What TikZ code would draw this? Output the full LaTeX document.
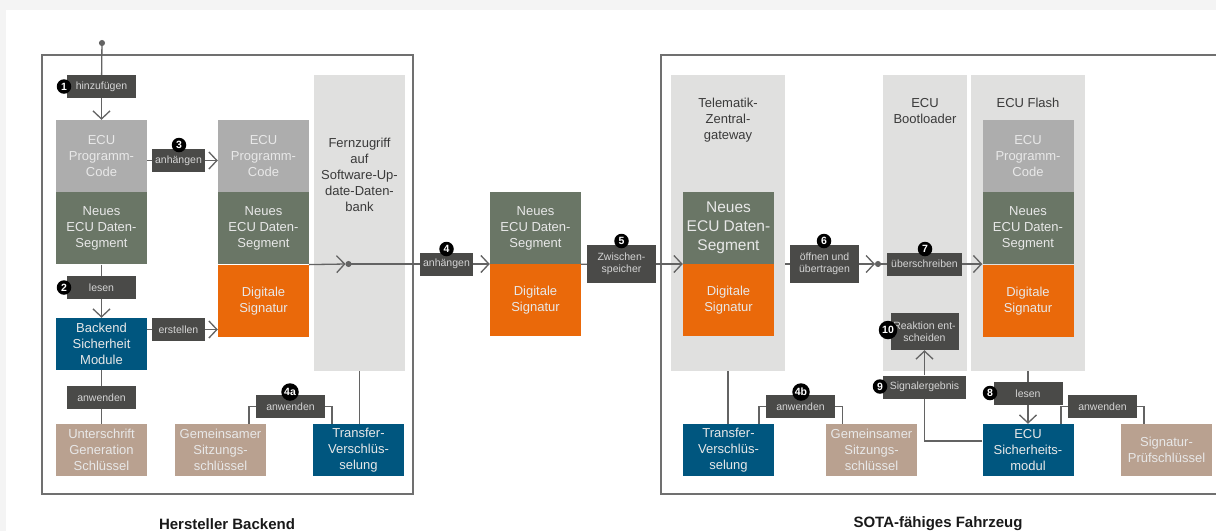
\documentclass[tikz,border=0pt]{standalone}
\usepackage{fontspec}
\setmainfont{Liberation Sans}
\usetikzlibrary{positioning,arrows.meta}
\definecolor{codegray}{HTML}{ADADAD}
\definecolor{seggreen}{HTML}{6A7666}
\definecolor{sigorange}{HTML}{EA690A}
\definecolor{hsmblue}{HTML}{00567F}
\definecolor{keytan}{HTML}{B9A190}
\definecolor{lblgray}{HTML}{4A4A48}
\definecolor{lanegray}{HTML}{E0E0DF}
\definecolor{wiregray}{HTML}{636363}
\definecolor{framegray}{HTML}{707070}
\definecolor{pagegray}{HTML}{F4F4F4}
\definecolor{boxtext}{HTML}{E8E8E8}
\definecolor{hdrtext}{HTML}{3A3A3A}
\tikzstyle{blk}   = [rectangle, inner sep=0pt, minimum width=91pt, minimum height=72pt,
                     align=center, text=boxtext, font=\fontsize{13}{16}\selectfont]
\tikzstyle{lbl}   = [rectangle, fill=lblgray, inner sep=0pt, minimum width=69pt, minimum height=23pt,
                     align=center, text=boxtext!92!black, font=\fontsize{10.5}{12}\selectfont]
\tikzstyle{wire}  = [draw=wiregray, line width=1.3pt]
\tikzstyle{arrow} = [wire, -{Straight Barb[length=8pt,width=17pt]}]

\begin{document}
\begin{tikzpicture}[
			x=1pt, y=-1pt,
			codebox/.style={blk, fill=codegray},
			segbox/.style={blk, fill=seggreen},
			sigbox/.style={blk, fill=sigorange},
			hsmbox/.style={blk, fill=hsmblue, minimum height=52pt},
			keybox/.style={blk, fill=keytan, minimum height=52pt},
			lane/.style={fill=lanegray, inner sep=0pt, minimum height=296pt},
			hdr/.style={align=center, text=hdrtext, inner sep=0pt, font=\fontsize{13}{16}\selectfont},
			badge/.style={circle, fill=black, text=white, inner sep=0pt, minimum size=14.5pt,
					font=\bfseries\fontsize{10.5}{10.5}\selectfont},
			dotline/.style={wire, {Circle[length=6pt]}-},
			areatitle/.style={text=black!90, font=\bfseries\fontsize{15}{18}\selectfont}
		]
		\useasboundingbox (0,0) rectangle (1216,531);
		\fill[pagegray] (0,0) rectangle (1216,531);
		\fill[white] (6,10) rectangle (1216,531);

		% frames
		\draw[framegray, line width=1.8pt] (42,55) rectangle (413,494);
		\draw[framegray, line width=1.8pt] (1230,55) -- (661,55) -- (661,494) -- (1230,494);

		% lanes
		\node[lane, minimum width=91pt] (laneF) at (359.5,223) {};
		\node[lane, minimum width=114pt] (laneT) at (728,223) {};
		\node[lane, minimum width=84pt] (laneB) at (925,223) {};
		\node[lane, minimum width=114pt] (laneFl) at (1028,223) {};
		\node[hdr, below=63pt of laneF.north] (hdrF) {Fernzugriff\\auf\\Software-Up-\\date-Daten-\\bank};
		\node[hdr, below=23pt of laneT.north] (hdrT) {Telematik-\\Zentral-\\gateway};
		\node[hdr, below=23pt of laneB.north] (hdrB) {ECU\\Bootloader};
		\node[hdr, below=23pt of laneFl.north] (hdrFl) {ECU Flash};

		% Hersteller Backend
		\node[codebox] (codeA) at (101.5,156) {ECU\\Programm-\\Code};
		\node[segbox, below=0pt of codeA] (segA) {Neues\\ECU Daten-\\Segment};
		\node[hsmbox] (hsmA) at (101.5,344) {Backend\\Sicherheit\\Module};
		\node[keybox] (keyA) at (101.5,450) {Unterschrift\\Generation\\Schlüssel};
		\node[codebox] (codeB) at (263.5,156) {ECU\\Programm-\\Code};
		\node[segbox, below=0pt of codeB] (segB) {Neues\\ECU Daten-\\Segment};
		\node[sigbox, below=0pt of segB] (sigB) {Digitale\\Signatur};
		\node[keybox] (keyB) at (220.5,450) {Gemeinsamer\\Sitzungs-\\schlüssel};
		\node[hsmbox] (trA) at (358.5,450) {Transfer-\\Verschlüs-\\selung};

		% unterwegs
		\node[segbox] (segM) at (535.5,228) {Neues\\ECU Daten-\\Segment};
		\node[sigbox, below=0pt of segM] (sigM) {Digitale\\Signatur};

		% Fahrzeug
		\node[segbox, font=\fontsize{15.5}{19}\selectfont] (segT) at (728.5,228) {Neues\\ECU Daten-\\Segment};
		\node[sigbox, below=0pt of segT] (sigT) {Digitale\\Signatur};
		\node[hsmbox] (trT) at (728.5,450) {Transfer-\\Verschlüs-\\selung};
		\node[keybox] (keyT) at (871.5,450) {Gemeinsamer\\Sitzungs-\\schlüssel};
		\node[codebox] (codeFl) at (1028,156) {ECU\\Programm-\\Code};
		\node[segbox, below=0pt of codeFl] (segFl) {Neues\\ECU Daten-\\Segment};
		\node[sigbox, below=0pt of segFl] (sigFl) {Digitale\\Signatur};
		\node[hsmbox] (hsmFl) at (1028,450) {ECU\\Sicherheits-\\modul};
		\node[keybox] (keyFl) at (1166.5,450) {Signatur-\\Prüfschlüssel};

		% labels on the wires
		\node[lbl] (lab1) at (101.5,86.5) {hinzufügen};
		\node[lbl] (lab2) at (101.5,287.5) {lesen};
		\node[lbl] (lab2a) at (101.5,397.5) {anwenden};
		\node[lbl, minimum width=53pt] (lab3) at (178.5,160.5) {anhängen};
		\node[lbl, minimum width=53pt] (labE) at (178.5,329.5) {erstellen};
		\node[lbl] (lab4a) at (290.5,406.5) {anwenden};
		\node[lbl, minimum width=53pt] (lab4) at (446.5,264) {anhängen};
		\node[lbl, minimum height=38pt] (lab5) at (621.5,264) {Zwischen-\\speicher};
		\node[lbl, minimum height=38pt] (lab6) at (824.5,264) {öffnen und\\übertragen};
		\node[lbl, minimum width=75pt] (lab7) at (924.5,264) {überschreiben};
		\node[lbl, minimum width=68pt, minimum height=37pt] (lab10) at (924.5,331.5) {Reaktion ent-\\scheiden};
		\node[lbl, minimum width=83pt] (lab9) at (924.5,387) {Signalergebnis};
		\node[lbl] (lab8) at (1028,393.5) {lesen};
		\node[lbl] (lab8b) at (1102.5,406.5) {anwenden};
		\node[lbl] (lab4b) at (800.5,406.5) {anwenden};

		\coordinate (in) at (102,40);
		\coordinate (j1) at (345.5,264);
		\coordinate (j2) at (875,264);

		% wires
		\draw[dotline] (in) -- (lab1);
		\draw[arrow] (lab1) -- (codeA);
		\draw[wire] (segA) -- (lab2);
		\draw[arrow] (lab2) -- (hsmA);
		\draw[wire] (hsmA) -- (lab2a);
		\draw[wire] (lab2a) -- (keyA);
		\draw[wire] (lab3 -| codeA.east) -- (lab3);
		\draw[arrow] (lab3) -- (lab3 -| codeB.west);
		\draw[wire] (labE -| hsmA.east) -- (labE);
		\draw[arrow] (labE) -- (labE -| sigB.west);
		\draw[arrow] (sigB.north east) -- (j1);
		\draw[dotline] (j1) -- (lab4);
		\draw[arrow] (lab4) -- (lab4 -| segM.west);
		\draw[wire] (laneF) -- (laneF |- trA.north);
		\draw[wire] (lab4a) -| ([xshift=28.5pt]keyB.north);
		\draw[wire] (lab4a) -| ([xshift=-26.5pt]trA.north);
		\draw[wire] (segM.south east) -- (lab5);
		\draw[arrow] (lab5) -- (lab5 -| segT.west);
		\draw[wire] (lab6 -| laneT.east) -- (lab6);
		\draw[arrow] (lab6) -- (j2);
		\draw[dotline] (j2) -- (lab7);
		\draw[arrow] (lab7) -- (lab7 -| segFl.west);
		\draw[wire] (laneT) -- (laneT |- trT.north);
		\draw[wire] (lab4b) -| ([xshift=30.5pt]trT.north);
		\draw[wire] (lab4b) -| ([xshift=-29pt]keyT.north);
		\draw[wire] (laneFl) -- (lab8);
		\draw[arrow] (lab8) -- (hsmFl);
		\draw[wire] (lab8b) -| ([xshift=33pt]hsmFl.north);
		\draw[wire] (lab8b) -| ([xshift=-22.5pt]keyFl.north);
		\draw[wire] ([yshift=9pt]hsmFl.west) -| (lab9);
		\draw[arrow] (lab9) -- (lab10);

		% step numbers
		\node[badge] (b1) at (64,86.5) {1};
		\node[badge] (b2) at (64,287.5) {2};
		\node[badge] (b3) at (179,145) {3};
		\node[badge] (b4) at (446.5,249) {4};
		\node[badge, minimum size=17.5pt] (b4a) at (290,392) {4a};
		\node[badge] (b5) at (621.5,241) {5};
		\node[badge] (b6) at (824,241) {6};
		\node[badge, minimum size=17.5pt] (b4b) at (801,392) {4b};
		\node[badge] (b7) at (925,249) {7};
		\node[badge] (b8) at (990,393) {8};
		\node[badge] (b9) at (880,386.5) {9};
		\node[badge, minimum size=18.5pt] (b10) at (888,330) {10};

		\node[areatitle] (tA) at (227,524) {Hersteller Backend};
		\node[areatitle] (tB) at (938,524) {SOTA-fähiges Fahrzeug};
	\end{tikzpicture}
\end{document}
